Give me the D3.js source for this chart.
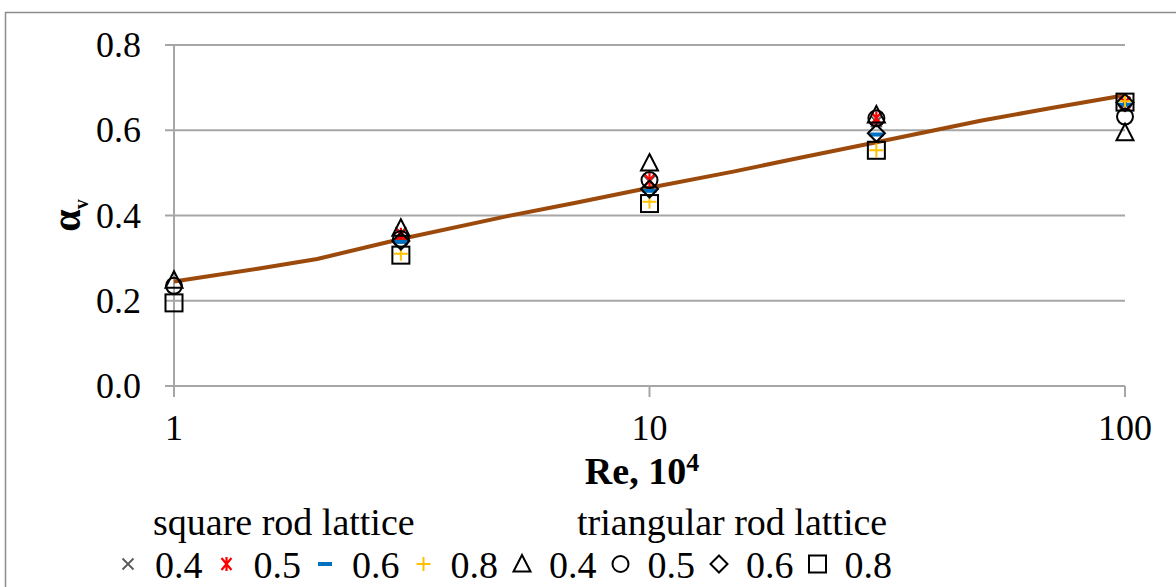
<!DOCTYPE html>
<html>
<head>
<meta charset="utf-8">
<script src="https://cdn.jsdelivr.net/npm/d3@7"></script>
<style>
  body { margin: 0; background: #fff; }
  svg { display: block; font-family: "Liberation Serif", "Times New Roman", serif; }
</style>
</head>
<body>
<div id="chart"></div>
<script>
// Reynolds numbers (x 10^4) where the measurements were taken
const re = [1, 3, 10, 30, 100];

// square rod lattice, by porosity
const sq04 = [null, 0.36, 0.48, 0.62, 0.665];
const sq05 = [null, 0.355, 0.483, 0.628, 0.665];
const sq06 = [null, 0.338, 0.458, 0.59, 0.66];
const sq08 = [null, 0.31, 0.432, 0.553, 0.668];

// triangular rod lattice, by porosity
const tr04 = [0.248, 0.37, 0.523, 0.636, 0.594];
const tr05 = [0.235, 0.345, 0.483, 0.628, 0.632];
const tr06 = [null, 0.34, 0.462, 0.593, 0.665];
const tr08 = [0.195, 0.307, 0.428, 0.553, 0.666];

// fitted curve
const curveRe = [1, 1.5, 2, 3, 5, 7, 10, 15, 20, 30, 50, 70, 100];
const curveAlpha = [0.245, 0.275, 0.298, 0.345, 0.398, 0.43, 0.465, 0.503, 0.532, 0.572, 0.623, 0.652, 0.682];

const xTicks = [1, 10, 100];
const yTicks = [0, 0.2, 0.4, 0.6, 0.8];

const series = [
    { label: '0.4', values: sq04, shape: 'x' },
    { label: '0.5', values: sq05, shape: 'star' },
    { label: '0.6', values: sq06, shape: 'dash' },
    { label: '0.8', values: sq08, shape: 'plus' },
    { label: '0.4', values: tr04, shape: 'triangle' },
    { label: '0.5', values: tr05, shape: 'circle' },
    { label: '0.6', values: tr06, shape: 'diamond' },
    { label: '0.8', values: tr08, shape: 'square' }
];

const width = 1176, height = 587;
const margin = { left: 174, right: 51, top: 45, bottom: 201 };

const svg = d3.select('#chart').append('svg')
    .attr('width', width)
    .attr('height', height);

// outer chart frame
svg.append('path')
    .attr('d', `M 5.5,${height} L 5.5,12.5 L ${width},12.5`)
    .style('fill', 'none')
    .style('stroke', '#8c8c8c')
    .style('stroke-width', 1.5);

const x = d3.scaleLog().domain([1, 100]).range([margin.left, width - margin.right]);
const y = d3.scaleLinear().domain([0, 0.8]).range([height - margin.bottom, margin.top]);

const gridColor = '#a6a6a6';

// horizontal gridlines, including the tick part left of the axis
svg.append('g')
    .selectAll('line')
    .data(yTicks)
    .enter()
    .append('line')
    .attr('x1', x(1) - 9)
    .attr('x2', x(100))
    .attr('y1', d => y(d))
    .attr('y2', d => y(d))
    .style('stroke', gridColor)
    .style('stroke-width', 2);

// vertical axis line, extending below as a tick
svg.append('line')
    .attr('x1', x(1)).attr('x2', x(1))
    .attr('y1', y(0.8)).attr('y2', y(0) + 11)
    .style('stroke', gridColor)
    .style('stroke-width', 2);

// x ticks at 10 and 100
svg.append('g')
    .selectAll('line')
    .data(xTicks.slice(1))
    .enter()
    .append('line')
    .attr('x1', d => x(d)).attr('x2', d => x(d))
    .attr('y1', y(0)).attr('y2', y(0) + 11)
    .style('stroke', gridColor)
    .style('stroke-width', 2);

// y tick labels
svg.append('g')
    .selectAll('text')
    .data(yTicks)
    .enter()
    .append('text')
    .attr('x', x(1) - 33)
    .attr('y', d => y(d) + 12)
    .attr('text-anchor', 'end')
    .style('font-size', '36px')
    .text(d => d3.format('.1f')(d));

// x tick labels
svg.append('g')
    .selectAll('text')
    .data(xTicks)
    .enter()
    .append('text')
    .attr('x', d => x(d))
    .attr('y', y(0) + 54)
    .attr('text-anchor', 'middle')
    .style('font-size', '36px')
    .text(d => d);

// axis titles
const xTitle = svg.append('text')
    .attr('x', 642)
    .attr('y', 484)
    .attr('text-anchor', 'middle')
    .style('font-size', '38px')
    .style('font-weight', 'bold')
    .text('Re, 10');
xTitle.append('tspan')
    .attr('dy', -13)
    .style('font-size', '26px')
    .text('4');

const yTitle = svg.append('text')
    .attr('transform', `translate(80,${y(0.4)}) rotate(-90)`)
    .attr('text-anchor', 'middle')
    .style('font-size', '40px')
    .style('font-weight', 'bold')
    .text('α');
yTitle.append('tspan')
    .attr('dy', 8)
    .style('font-size', '20px')
    .text('v');

// fitted curve
const line = d3.line()
    .x(d => x(d[0]))
    .y(d => y(d[1]));

svg.append('path')
    .datum(curveRe.map((r, i) => [r, curveAlpha[i]]))
    .attr('d', line)
    .style('fill', 'none')
    .style('stroke', '#9c4a0c')
    .style('stroke-width', 4)
    .style('stroke-linejoin', 'round');

// marker drawing helper, centred at 0,0
function drawMarker(g, shape) {
    if (shape === 'x') {
        g.append('path').attr('d', 'M -5.5,-5.5 L 5.5,5.5 M -5.5,5.5 L 5.5,-5.5')
            .style('stroke', '#595959').style('stroke-width', 1.8).style('fill', 'none');
    } else if (shape === 'star') {
        g.append('path').attr('d', 'M -5,-6 L 5,6 M -5,6 L 5,-6 M 0,-7 L 0,7')
            .style('stroke', '#ff0000').style('stroke-width', 2.2).style('fill', 'none');
    } else if (shape === 'dash') {
        g.append('rect').attr('x', -7).attr('y', -2).attr('width', 14).attr('height', 4)
            .style('fill', '#0070c0');
    } else if (shape === 'plus') {
        g.append('path').attr('d', 'M -7,0 L 7,0 M 0,-7 L 0,7')
            .style('stroke', '#ffc000').style('stroke-width', 2).style('fill', 'none');
    } else if (shape === 'triangle') {
        g.append('path').attr('d', 'M 0,-9 L 8.5,7.5 L -8.5,7.5 Z')
            .style('stroke', '#000').style('stroke-width', 2).style('fill', 'none');
    } else if (shape === 'circle') {
        g.append('circle').attr('r', 8)
            .style('stroke', '#000').style('stroke-width', 2).style('fill', 'none');
    } else if (shape === 'diamond') {
        g.append('path').attr('d', 'M 0,-8.5 L 8.5,0 L 0,8.5 L -8.5,0 Z')
            .style('stroke', '#000').style('stroke-width', 2).style('fill', 'none');
    } else if (shape === 'square') {
        g.append('rect').attr('x', -8.5).attr('y', -8.5).attr('width', 17).attr('height', 17)
            .style('stroke', '#000').style('stroke-width', 2).style('fill', 'none');
    }
}

// data markers, series in order so later ones sit on top
series.forEach(s => {
    const pts = re.map((r, i) => [r, s.values[i]]).filter(d => d[1] !== null);
    svg.append('g')
        .selectAll('g')
        .data(pts)
        .enter()
        .append('g')
        .attr('transform', d => `translate(${x(d[0])},${y(d[1])})`)
        .each(function () { drawMarker(d3.select(this), s.shape); });
});

// legend
svg.append('text').attr('x', 153).attr('y', 535)
    .style('font-size', '38px').text('square rod lattice');
svg.append('text').attr('x', 577).attr('y', 535)
    .style('font-size', '38px').text('triangular rod lattice');

const legendStep = 98.5;
series.forEach((s, i) => {
    const lx = 128 + i * legendStep;
    const g = svg.append('g').attr('transform', `translate(${lx},564)`);
    drawMarker(g, s.shape);
    svg.append('text')
        .attr('x', lx + 27)
        .attr('y', 578)
        .style('font-size', '38px')
        .text(s.label);
});
</script>
</body>
</html>
